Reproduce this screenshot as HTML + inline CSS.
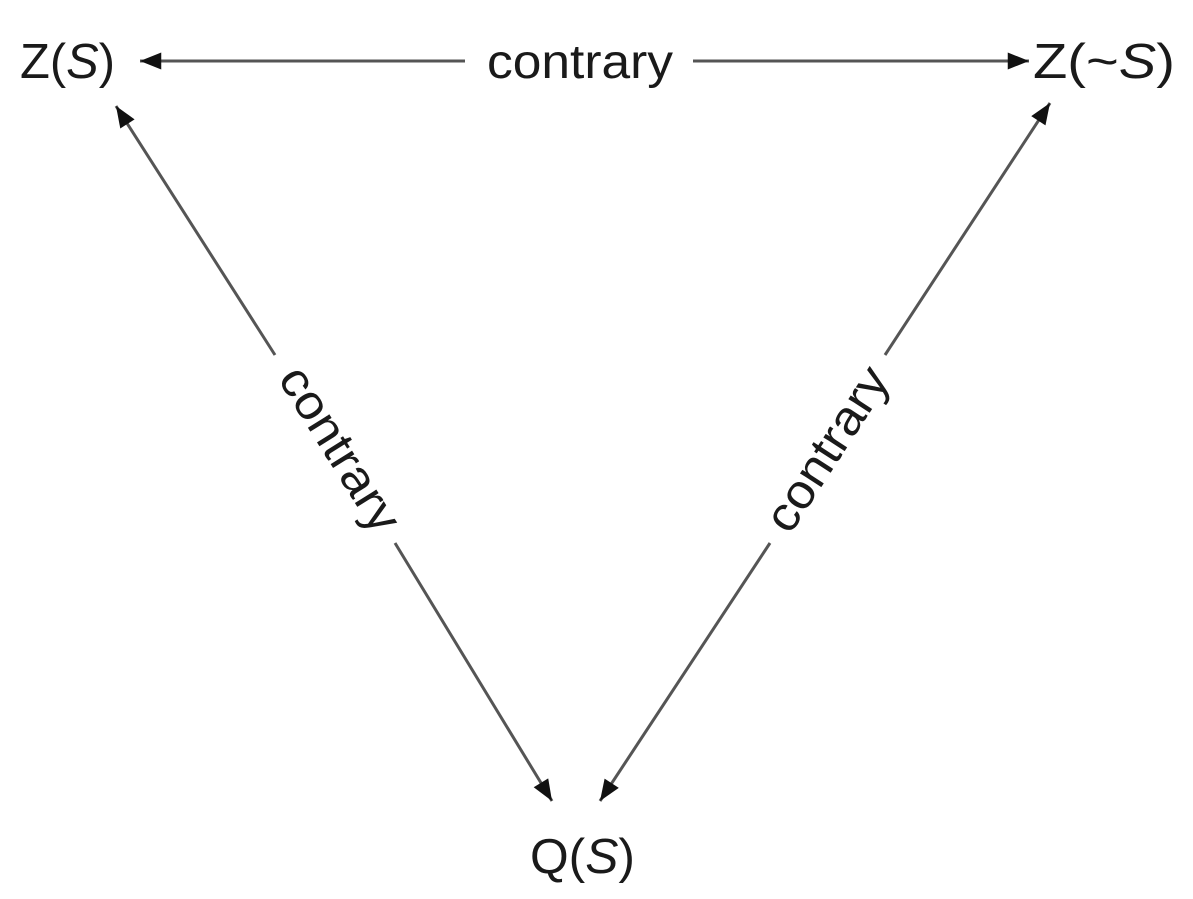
<!DOCTYPE html>
<html><head><meta charset="utf-8"><style>
html,body{margin:0;padding:0;background:#fff;}
svg{display:block;}
text{font-family:"Liberation Sans",sans-serif;fill:#1a1a1a;}
</style></head><body>
<svg width="1193" height="899" viewBox="0 0 1193 899">
<defs>
<marker id="b" viewBox="0 0 20 16" markerWidth="24" markerHeight="17" refX="20" refY="8" orient="auto" markerUnits="userSpaceOnUse">
<path d="M0,0 L20,8 L0,16 z" fill="#111"/>
</marker>
</defs>
<g stroke="#555" stroke-width="3" fill="none">
<line x1="465" y1="61" x2="140" y2="61" marker-end="url(#b)"/>
<line x1="693" y1="61" x2="1029" y2="61" marker-end="url(#b)"/>
<line x1="275" y1="355" x2="116" y2="106" marker-end="url(#b)"/>
<line x1="395" y1="543" x2="552" y2="801" marker-end="url(#b)"/>
<line x1="885" y1="355" x2="1050" y2="103" marker-end="url(#b)"/>
<line x1="770" y1="543" x2="600" y2="801" marker-end="url(#b)"/>
</g>
<text x="20" y="78" font-size="49" textLength="95" lengthAdjust="spacingAndGlyphs">Z(<tspan font-style="italic">S</tspan>)</text>
<text x="1033" y="78" font-size="49" textLength="142" lengthAdjust="spacingAndGlyphs">Z(~<tspan font-style="italic">S</tspan>)</text>
<text x="530" y="873" font-size="49" textLength="105" lengthAdjust="spacingAndGlyphs">Q(<tspan font-style="italic">S</tspan>)</text>
<text x="487" y="78" font-size="48" textLength="186" lengthAdjust="spacingAndGlyphs">contrary</text>
<text transform="translate(340,449) rotate(58)" font-size="48" x="-93" dy="16" textLength="186" lengthAdjust="spacingAndGlyphs">contrary</text>
<text transform="translate(827,449) rotate(-57)" font-size="48" x="-93" dy="16" textLength="186" lengthAdjust="spacingAndGlyphs">contrary</text>
</svg>
</body></html>
